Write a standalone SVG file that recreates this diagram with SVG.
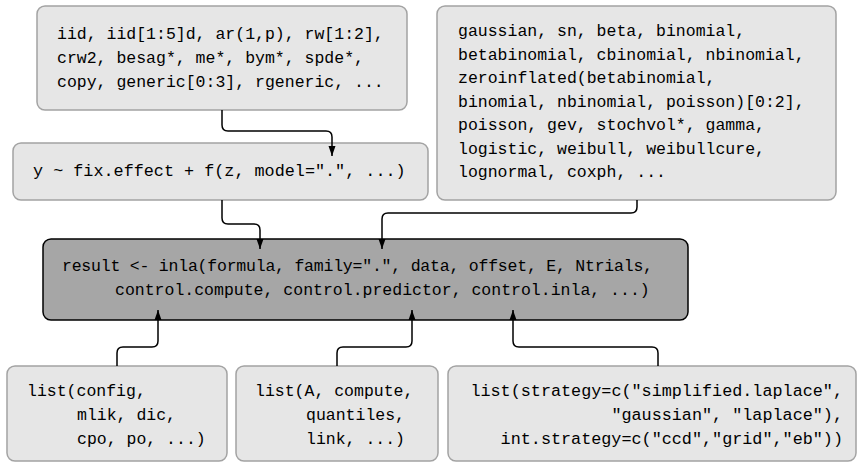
<svg xmlns="http://www.w3.org/2000/svg" width="864" height="467" viewBox="0 0 864 467">
<style>
.box{fill:#e6e6e6;stroke:#a3a3a3;stroke-width:1.5}
.main{fill:#a6a6a6;stroke:#000;stroke-width:1.5}
.t{font-family:"Liberation Mono","DejaVu Sans Mono",monospace;font-size:16.5px;fill:#000;white-space:pre}
.tl{font-size:16.8px}
.c{fill:none;stroke:#000;stroke-width:1.5}
</style>
<defs>
<marker id="ah" markerUnits="userSpaceOnUse" markerWidth="10" markerHeight="10" viewBox="0 0 10 10" refX="10" refY="5" orient="auto">
<path d="M0,1.5 L10,5 L0,8.5 Z" fill="#000"/>
</marker>
</defs>
<rect width="864" height="467" fill="#fff"/>
<g id="models">
<rect class="box" x="37" y="6" width="370" height="104" rx="8"/>
<text class="t" x="57" y="39">iid, iid[1:5]d, ar(1,p), rw[1:2],</text>
<text class="t" x="57" y="63">crw2, besag*, me*, bym*, spde*,</text>
<text class="t" x="57" y="87">copy, generic[0:3], rgeneric, ...</text>
</g>
<g id="families">
<rect class="box" x="437" y="6" width="399" height="194" rx="8"/>
<text class="t" x="458" y="36">gaussian, sn, beta, binomial,</text>
<text class="t" x="458" y="59.5">betabinomial, cbinomial, nbinomial,</text>
<text class="t" x="458" y="83">zeroinflated(betabinomial,</text>
<text class="t" x="458" y="106.5">binomial, nbinomial, poisson)[0:2],</text>
<text class="t" x="458" y="130">poisson, gev, stochvol*, gamma,</text>
<text class="t" x="458" y="153.5">logistic, weibull, weibullcure,</text>
<text class="t" x="458" y="177">lognormal, coxph, ...</text>
</g>
<g id="formula">
<rect class="box" x="13" y="143" width="415" height="57" rx="8"/>
<text class="t tl" x="33" y="176">y ~ fix.effect + f(z, model=".", ...)</text>
</g>
<g id="inla">
<rect class="main" x="43" y="239" width="645" height="81" rx="8"/>
<text class="t" x="62" y="271" textLength="591" lengthAdjust="spacing">result &lt;- inla(formula, family=".", data, offset, E, Ntrials,</text>
<text class="t" x="115" y="295">control.compute, control.predictor, control.inla, ...)</text>
</g>
<g id="compute">
<rect class="box" x="7" y="366" width="220" height="95" rx="8"/>
<text class="t" x="27" y="396">list(config,</text>
<text class="t" x="77" y="420">mlik, dic,</text>
<text class="t" x="77" y="444">cpo, po, ...)</text>
</g>
<g id="predictor">
<rect class="box" x="236" y="366" width="202" height="95" rx="8"/>
<text class="t" x="255" y="396">list(A, compute,</text>
<text class="t" x="306" y="420">quantiles,</text>
<text class="t" x="306" y="444">link, ...)</text>
</g>
<g id="inlactl">
<rect class="box" x="448" y="366" width="408" height="95" rx="8"/>
<text class="t tl" x="843" y="396" text-anchor="end">list(strategy=c("simplified.laplace",</text>
<text class="t tl" x="843" y="420" text-anchor="end">"gaussian", "laplace"),</text>
<text class="t tl" x="843" y="444" text-anchor="end">int.strategy=c("ccd","grid","eb"))</text>
</g>
<g id="connectors">
<path class="c" marker-end="url(#ah)" d="M222,110 V125 Q222,131 228,131 H326 Q332,131 332,137 V156"/>
<path class="c" marker-end="url(#ah)" d="M222,200 V218 Q222,224 228,224 H254 Q260,224 260,230 V249"/>
<path class="c" marker-end="url(#ah)" d="M637,200 V207 Q637,213 631,213 H388 Q382,213 382,219 V249"/>
<path class="c" marker-end="url(#ah)" d="M117,366 V353 Q117,347 123,347 H152 Q158,347 158,341 V310"/>
<path class="c" marker-end="url(#ah)" d="M337,366 V353 Q337,347 343,347 H406 Q412,347 412,341 V310"/>
<path class="c" marker-end="url(#ah)" d="M658,366 V353 Q658,347 652,347 H519 Q513,347 513,341 V310"/>
</g>
</svg>
